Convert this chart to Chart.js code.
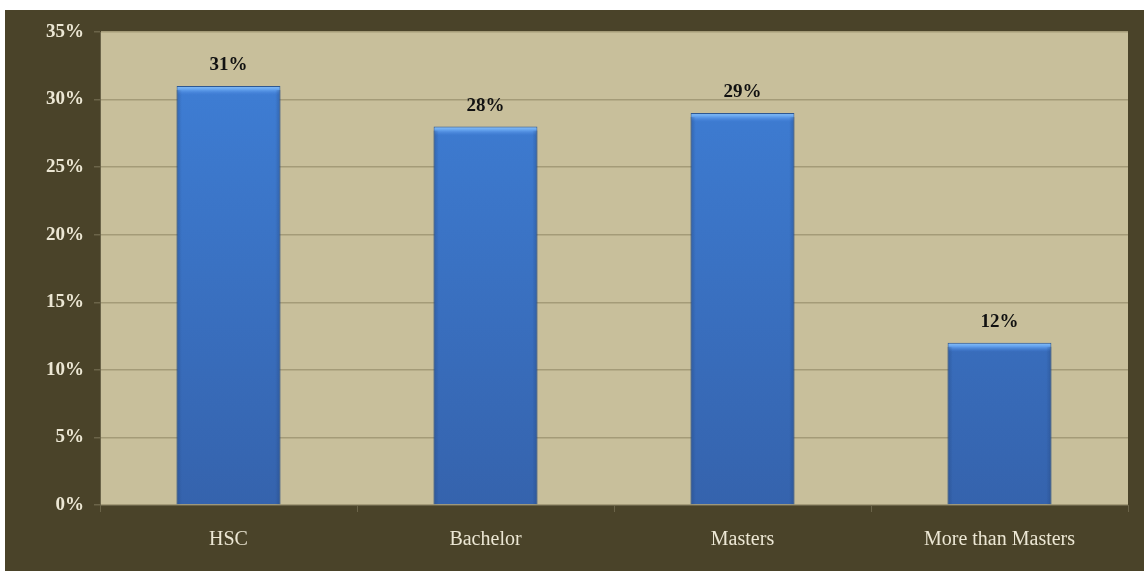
<!DOCTYPE html>
<html>
<head>
<meta charset="utf-8">
<script src="https://cdn.jsdelivr.net/npm/chart.js@4"></script>
<style>
  html, body { margin: 0; padding: 0; background: #ffffff; }
  #frame {
    position: absolute; left: 5px; top: 10px;
    width: 1139px; height: 561px;
    background: #4a4329;
  }
</style>
</head>
<body>
<div id="frame"><canvas id="chart"></canvas></div>
<script>
const categories = ["HSC", "Bachelor", "Masters", "More than Masters"];
const shares = [31, 28, 29, 12];
const yTicks = [0, 5, 10, 15, 20, 25, 30, 35];

const ctx = document.getElementById("chart");

// tan plot background behind the bars
const plotBackground = {
  id: "plotBackground",
  beforeDraw(chart) {
    const { ctx, chartArea: a } = chart;
    ctx.save();
    ctx.fillStyle = "#c8bf9b";
    ctx.fillRect(a.left, a.top, a.right - a.left, a.bottom - a.top);
    ctx.restore();
  },
};

// light bevel on the top of each bar, darker sides, and the value above it
const barExtras = {
  id: "barExtras",
  afterDatasetsDraw(chart) {
    const { ctx } = chart;
    const meta = chart.getDatasetMeta(0);
    ctx.save();
    meta.data.forEach((bar, i) => {
      const left = bar.x - bar.width / 2;
      const h = bar.base - bar.y;

      const g = ctx.createLinearGradient(0, bar.y, 0, bar.y + 9);
      g.addColorStop(0, "#8cc4fa");
      g.addColorStop(0.4, "#62a0ec");
      g.addColorStop(1, "rgba(70,130,220,0)");
      ctx.fillStyle = g;
      ctx.fillRect(left + 1, bar.y + 1, bar.width - 2, 9);

      const side = ctx.createLinearGradient(left, 0, left + bar.width, 0);
      side.addColorStop(0, "rgba(30,60,110,0.35)");
      side.addColorStop(0.05, "rgba(30,60,110,0)");
      side.addColorStop(0.95, "rgba(30,60,110,0)");
      side.addColorStop(1, "rgba(30,60,110,0.35)");
      ctx.fillStyle = side;
      ctx.fillRect(left, bar.y + 4, bar.width, h - 4);

      ctx.fillStyle = "#111111";
      ctx.font = "bold 19px 'Liberation Serif', serif";
      ctx.textAlign = "center";
      ctx.textBaseline = "middle";
      ctx.fillText(shares[i] + "%", bar.x, bar.y - 21);
    });
    ctx.restore();
  },
};

new Chart(ctx, {
  type: "bar",
  plugins: [plotBackground, barExtras],
  data: {
    labels: categories,
    datasets: [
      {
        data: shares,
        backgroundColor: (c) => {
          const a = c.chart.chartArea;
          if (!a) return "#3c78cf";
          const g = c.chart.ctx.createLinearGradient(0, a.top, 0, a.bottom);
          g.addColorStop(0, "#3f80d8");
          g.addColorStop(1, "#3563ad");
          return g;
        },
        borderColor: "#2d5792",
        borderWidth: 1,
        borderSkipped: "bottom",
        categoryPercentage: 0.8,
        barPercentage: 0.505,
      },
    ],
  },
  options: {
    responsive: true,
    maintainAspectRatio: false,
    animation: false,
    layout: { padding: { top: 22, right: 16, left: 0, bottom: 0 } },
    plugins: {
      legend: { display: false },
      tooltip: { enabled: false },
    },
    scales: {
      x: {
        offset: true,
        grid: {
          display: true,
          offset: true,
          drawOnChartArea: false,
          color: "#6b6449",
          tickLength: 7,
        },
        border: { color: "#6b6449" },
        ticks: {
          color: "#ece7d4",
          font: { family: "'Liberation Serif', serif", size: 20 },
          padding: 16,
        },
        afterFit(scale) { scale.height = 66; },
      },
      y: {
        min: 0,
        max: 35,
        afterBuildTicks(scale) {
          scale.ticks = yTicks.map((v) => ({ value: v }));
        },
        grid: {
          color: "#a49b78",
          lineWidth: 1.5,
          tickLength: 6,
          tickColor: "#6b6449",
        },
        border: { color: "#6b6449" },
        ticks: {
          color: "#ece7d4",
          font: { family: "'Liberation Serif', serif", size: 19, weight: "bold" },
          padding: 10,
          callback: (v) => v + "%",
        },
        afterFit(scale) { scale.width = 95; },
      },
    },
  },
});
</script>
</body>
</html>
